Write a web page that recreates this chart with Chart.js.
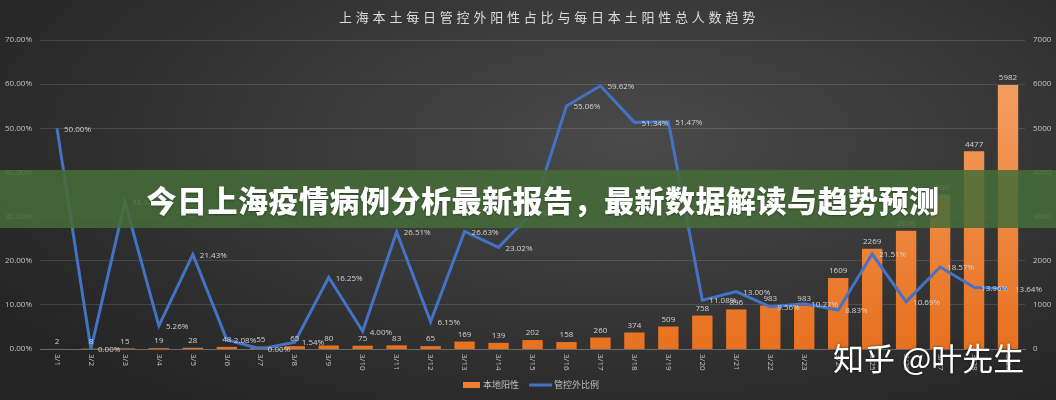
<!DOCTYPE html>
<html>
<head>
<meta charset="utf-8">
<script src="https://cdn.jsdelivr.net/npm/chart.js@4.4.1/dist/chart.umd.min.js"></script>
<style>
  html, body { margin: 0; padding: 0; }
  body {
    width: 1056px; height: 400px; overflow: hidden;
    background: radial-gradient(ellipse 70% 80% at 60% 35%, #4a4a4a 0%, #393939 45%, #252525 100%);
  }
  #wrap { position: relative; width: 1056px; height: 400px; }
  #banner {
    position: absolute; left: 0; top: 170px; width: 1056px; height: 58px;
    background: rgba(70, 108, 56, 0.86);
    color: #fff; font: 900 30px "Noto Sans CJK SC", sans-serif;
    line-height: 58px; text-align: center; letter-spacing: 0.5px;
    text-shadow: 0 1px 2px rgba(0,0,0,0.35);
    padding-left: 30px; box-sizing: border-box;
  }
  #mark {
    position: absolute; left: 833px; top: 334px;
    color: #fff; font: 400 31px "Noto Sans CJK SC", sans-serif;
    text-shadow: 0 0 3px rgba(0,0,0,0.6);
    white-space: nowrap;
  }
</style>
</head>
<body>
<div id="wrap">
  <canvas id="myChart" width="1056" height="400"></canvas>
  <div id="banner">今日上海疫情病例分析最新报告，最新数据解读与趋势预测</div>
  <div id="mark">知乎 @叶先生</div>
</div>
<script>
//-- data ---->
var chartTitle = '上海本土每日管控外阳性占比与每日本土阳性总人数趋势';
var dates = ['3/1','3/2','3/3','3/4','3/5','3/6','3/7','3/8','3/9','3/10',
             '3/11','3/12','3/13','3/14','3/15','3/16','3/17','3/18','3/19','3/20',
             '3/21','3/22','3/23','3/24','3/25','3/26','3/27','3/28','3/29'];
var localPositive = [2, 8, 15, 19, 28, 48, 55, 65, 80, 75,
                     83, 65, 169, 139, 202, 158, 260, 374, 509, 758,
                     896, 983, 983, 1609, 2269, 2676, 3500, 4477, 5982];
var outsideRatio = [50.00, 0.00, 33.33, 5.26, 21.43, 2.08, 0.00, 1.54, 16.25, 4.00,
                    26.51, 6.15, 26.63, 23.02, 30.97, 55.06, 59.62, 51.34, 51.47, 11.08,
                    13.00, 9.56, 10.27, 8.83, 21.51, 10.69, 18.57, 13.96, 13.64];
var legendNames = ['本地阳性', '管控外比例'];

var orange = '#ED7D31';
var blue = '#4472C4';
var textColor = '#c4c4c4';
var numFont = '"Open Sans", "Liberation Sans", sans-serif';
var cjkFont = '"Noto Sans CJK SC", sans-serif';

//-- bar gradient (lighter on top) ---->
function barFill(context) {
    var chart = context.chart;
    var area = chart.chartArea;
    if (!area) return orange;
    var g = chart.ctx.createLinearGradient(0, area.top, 0, area.bottom);
    g.addColorStop(0, '#f5a56c');
    g.addColorStop(1, '#e8711f');
    return g;
}

//-- labels, title, legend drawn on the canvas ---->
var extras = {
    id: 'extras',
    afterDatasetsDraw: function (chart) {
        var ctx = chart.ctx;
        ctx.save();

        // bar value labels
        ctx.font = '8px ' + numFont;
        ctx.fillStyle = '#d2d2d2';
        ctx.textAlign = 'center';
        ctx.textBaseline = 'bottom';
        chart.getDatasetMeta(0).data.forEach(function (el, i) {
            ctx.fillText(localPositive[i], el.x, el.y - 3);
        });

        // line value labels
        ctx.textAlign = 'left';
        ctx.textBaseline = 'middle';
        chart.getDatasetMeta(1).data.forEach(function (el, i) {
            ctx.fillText(outsideRatio[i].toFixed(2) + '%', el.x + 7, el.y + 1);
        });

        // x labels, rotated clockwise
        var xs = chart.scales.x;
        ctx.fillStyle = textColor;
        dates.forEach(function (d, i) {
            ctx.save();
            ctx.translate(xs.getPixelForValue(i), xs.top + 5);
            ctx.rotate(Math.PI / 2);
            ctx.textAlign = 'left';
            ctx.textBaseline = 'middle';
            ctx.fillText(d, 0, 0);
            ctx.restore();
        });

        // title
        ctx.font = '13px ' + cjkFont;
        ctx.fillStyle = '#dcdcdc';
        ctx.textAlign = 'center';
        ctx.textBaseline = 'middle';
        if ('letterSpacing' in ctx) ctx.letterSpacing = '3.8px';
        ctx.fillText(chartTitle, 549, 17);
        if ('letterSpacing' in ctx) ctx.letterSpacing = '0px';

        // legend
        ctx.font = '9px ' + cjkFont;
        ctx.fillStyle = '#bdbdbd';
        ctx.textAlign = 'left';
        var ly = 385;
        var w0 = ctx.measureText(legendNames[0]).width;
        var w1 = ctx.measureText(legendNames[1]).width;
        var total = 17 + 3 + w0 + 10 + 23 + w1;
        var lx = chart.width / 2 - total / 2 + 2;
        ctx.fillStyle = orange;
        ctx.fillRect(lx, ly - 3, 17, 6);
        ctx.fillStyle = '#bdbdbd';
        ctx.fillText(legendNames[0], lx + 20, ly);
        lx += 20 + w0 + 10;
        ctx.strokeStyle = blue;
        ctx.lineWidth = 3;
        ctx.beginPath();
        ctx.moveTo(lx, ly);
        ctx.lineTo(lx + 23, ly);
        ctx.stroke();
        ctx.fillText(legendNames[1], lx + 25, ly);

        ctx.restore();
    }
};

var ctx = document.getElementById('myChart');
var myChart = new Chart(ctx, {
    data: {
        labels: dates,
        datasets: [{
            type: 'bar',
            label: legendNames[0],
            data: localPositive,
            yAxisID: 'yRight',
            backgroundColor: barFill,
            borderWidth: 0,
            categoryPercentage: 1,
            barPercentage: 0.6,
            order: 1
        }, {
            type: 'line',
            label: legendNames[1],
            data: outsideRatio,
            yAxisID: 'yLeft',
            borderColor: blue,
            backgroundColor: blue,
            borderWidth: 3,
            pointRadius: 0,
            tension: 0,
            order: 0
        }]
    },
    options: {
        responsive: false,
        animation: false,
        layout: { padding: { top: 40, left: 0, right: 0, bottom: 0 } },
        plugins: {
            legend: { display: false },
            title: { display: false },
            tooltip: { enabled: false }
        },
        scales: {
            x: {
                grid: { display: false },
                border: { color: '#6a6a6a', width: 1 },
                ticks: { display: false },
                afterFit: function (scale) { scale.height = 51; }
            },
            yLeft: {
                position: 'left',
                min: 0, max: 70,
                grid: { color: 'rgba(255,255,255,0.13)', drawTicks: false },
                border: { display: false },
                ticks: {
                    stepSize: 10,
                    padding: 8,
                    color: textColor,
                    font: { size: 8, family: numFont },
                    callback: function (v) { return v.toFixed(2) + '%'; }
                },
                afterFit: function (scale) { scale.width = 40; }
            },
            yRight: {
                position: 'right',
                min: 0, max: 7000,
                grid: { display: false, drawTicks: false },
                border: { display: false },
                ticks: {
                    stepSize: 1000,
                    padding: 8,
                    color: textColor,
                    font: { size: 8, family: numFont },
                    callback: function (v) { return String(v); }
                },
                afterFit: function (scale) { scale.width = 31; }
            }
        }
    },
    plugins: [extras]
});
</script>
</body>
</html>
